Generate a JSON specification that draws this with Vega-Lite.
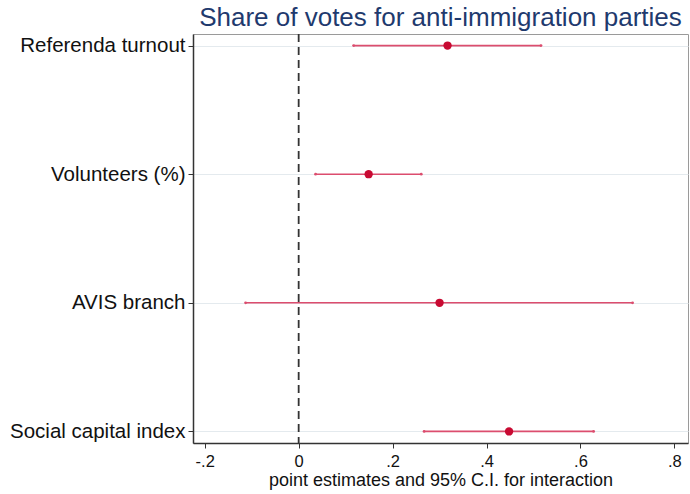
{
  "$schema": "https://vega.github.io/schema/vega-lite/v6.json",
  "width": 495,
  "height": 409,
  "autosize": {"type": "none"},
  "padding": {"left": 193, "top": 34, "right": 2, "bottom": 51},
  "background": "white",
  "config": {
    "font": "Liberation Sans",
    "view": {"stroke": "#9a9a9a", "strokeWidth": 1}
  },
  "title": {
    "text": "Share of votes for anti-immigration parties",
    "fontSize": 26,
    "fontWeight": "normal",
    "color": "#1f3a6e",
    "anchor": "middle",
    "offset": 2
  },
  "datasets": {
    "est": [
      {"var": "Referenda turnout", "b": 0.317, "lo": 0.117, "hi": 0.516},
      {"var": "Volunteers (%)", "b": 0.149, "lo": 0.036, "hi": 0.261},
      {"var": "AVIS branch", "b": 0.300, "lo": -0.113, "hi": 0.711},
      {"var": "Social capital index", "b": 0.448, "lo": 0.267, "hi": 0.628}
    ],
    "zero": [{"z": 0}]
  },
  "layer": [
    {
      "data": {"name": "est"},
      "mark": {"type": "rule", "color": "#dc4d6e", "strokeWidth": 1.6},
      "encoding": {
        "y": {
          "field": "var", "type": "nominal", "sort": null,
          "scale": {"type": "point", "padding": 0.09},
          "axis": {
            "title": null, "labelFontSize": 20.5, "labelColor": "#111",
            "tickSize": 5, "tickColor": "#333", "domainColor": "#333", "domainWidth": 1.5,
            "labelPadding": 3, "grid": true, "gridColor": "#e4eaee", "gridWidth": 1,
            "labelLimit": 300
          }
        },
        "x": {
          "field": "lo", "type": "quantitative",
          "scale": {"domain": [-0.225, 0.829], "nice": false, "zero": false},
          "axis": {
            "title": "point estimates and 95% C.I. for interaction",
            "titleFontSize": 18, "titleFontWeight": "normal", "titleColor": "#111",
            "titlePadding": 2,
            "values": [-0.2, 0, 0.2, 0.4, 0.6, 0.8],
            "labelExpr": "datum.value == 0 ? '0' : (datum.value < 0 ? '-' : '') + replace(format(abs(datum.value), '.1f'), '0.', '.')",
            "labelFontSize": 16.5, "labelColor": "#111", "labelPadding": 5,
            "tickSize": 5, "tickColor": "#333", "domainColor": "#333", "domainWidth": 1.5,
            "grid": false
          }
        },
        "x2": {"field": "hi"}
      }
    },
    {
      "data": {"name": "est"},
      "mark": {"type": "point", "filled": true, "opacity": 1, "color": "#dc4d6e", "size": 8},
      "encoding": {
        "y": {"field": "var", "type": "nominal", "sort": null},
        "x": {"field": "lo", "type": "quantitative"}
      }
    },
    {
      "data": {"name": "est"},
      "mark": {"type": "point", "filled": true, "opacity": 1, "color": "#dc4d6e", "size": 8},
      "encoding": {
        "y": {"field": "var", "type": "nominal", "sort": null},
        "x": {"field": "hi", "type": "quantitative"}
      }
    },
    {
      "data": {"name": "zero"},
      "mark": {"type": "rule", "color": "#333", "strokeWidth": 1.8, "strokeDash": [8, 5]},
      "encoding": {
        "x": {"field": "z", "type": "quantitative"}
      }
    },
    {
      "data": {"name": "est"},
      "mark": {"type": "point", "filled": true, "opacity": 1, "color": "#c80a32", "size": 70},
      "encoding": {
        "y": {"field": "var", "type": "nominal", "sort": null},
        "x": {"field": "b", "type": "quantitative"}
      }
    }
  ]
}
